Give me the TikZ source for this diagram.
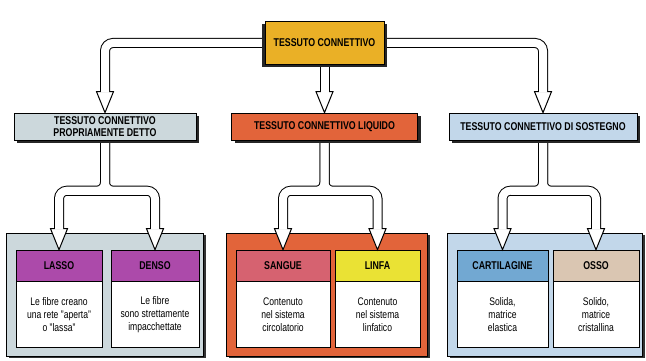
\documentclass[tikz,border=0pt]{standalone}
\usepackage{fontspec}
\setmainfont{Liberation Sans}[FakeStretch=0.78]
\usepackage{xcolor}
\usetikzlibrary{calc,positioning,shadows}

\definecolor{giallo}{RGB}{234,176,38}
\definecolor{grigio}{RGB}{204,216,220}
\definecolor{arancio}{RGB}{226,100,58}
\definecolor{celeste}{RGB}{194,215,234}
\definecolor{viola}{RGB}{172,74,170}
\definecolor{rosa}{RGB}{214,98,112}
\definecolor{limone}{RGB}{234,226,52}
\definecolor{azzurro}{RGB}{114,168,210}
\definecolor{sabbia}{RGB}{218,198,178}

\pgfdeclarelayer{fondo}
\pgfdeclarelayer{frecce}
\pgfsetlayers{fondo,frecce,main}

\tikzset{
  titolo/.style={draw, line width=0.7pt, align=center, inner sep=0pt,
    font=\fontsize{11.3}{12.5}\selectfont\bfseries,
    general shadow={fill=black!85, shadow xshift=3pt, shadow yshift=-3pt}},
  contenitore/.style={draw, line width=0.7pt, inner sep=0pt,
    general shadow={fill=black!80, shadow xshift=3pt, shadow yshift=-2pt}},
  testa/.style={draw, line width=0.6pt, inner sep=0pt, minimum height=31pt,
    font=\fontsize{11.3}{12.5}\selectfont\bfseries},
  corpo/.style={draw, fill=white, line width=0.6pt, inner sep=0pt,
    minimum height=66pt, align=center, font=\fontsize{11}{13}\selectfont},
  nero/.style={line width=10pt, rounded corners=8pt, black},
  bianco/.style={line width=8pt, rounded corners=8pt, white}
}

% condotti a doppia linea
\newcommand{\condotti}[2]{%
  \draw[#1] (connettivo.west) -| ($(propriamente.north)+(0,#2)$);
  \draw[#1] (connettivo.south) -- ($(liquido.north)+(0,#2)$);
  \draw[#1] (connettivo.east) -| ($(sostegno.north)+(0,#2)$);
  \foreach \p/\a/\b in {propriamente/lasso/denso, liquido/sangue/linfa, sostegno/cartilagine/osso}{
    \draw[#1] (\p.south) |- ($(\a.north)+(0,-59)$) -- ($(\a.north)+(0,#2)$);
    \draw[#1] (\p.south) |- ($(\b.north)+(0,-59)$) -- ($(\b.north)+(0,#2)$);
    \draw[#1] ($(\a.north)+(8,-59)$) -- ($(\b.north)+(-8,-59)$);
  }
}
\newcommand{\punta}[1]{%
  \filldraw[fill=white, line width=1pt, line join=miter]
    ($(#1.north)+(-8.5,-21)$) -- (#1.north) -- ($(#1.north)+(8.5,-21)$) -- cycle;
}

\begin{document}
\begin{tikzpicture}[x=1pt, y=-1pt]
  \useasboundingbox (0,0) rectangle (646,361);

  % vertice
  \node[titolo, fill=giallo, minimum width=119pt, minimum height=43pt,
    general shadow={fill=black!85, shadow xshift=-3pt, shadow yshift=-3pt}]
    (connettivo) at (324.5,43) {TESSUTO CONNETTIVO};

  % secondo livello
  \node[titolo, fill=grigio, minimum width=182pt, minimum height=27pt]
    (propriamente) at (105,126.5) {TESSUTO CONNETTIVO\\PROPRIAMENTE DETTO};
  \node[titolo, fill=arancio, minimum width=186pt, minimum height=27pt]
    (liquido) at (324.5,126.5) {TESSUTO CONNETTIVO LIQUIDO};
  \node[titolo, fill=celeste, minimum width=188pt, minimum height=27pt]
    (sostegno) at (543,126.5) {TESSUTO CONNETTIVO DI SOSTEGNO};

  \begin{pgfonlayer}{fondo}
    % riquadri
    \node[contenitore, fill=grigio, minimum width=197pt, minimum height=123pt] (boxP) at (104.5,294.5) {};
    \node[contenitore, fill=arancio, minimum width=201pt, minimum height=123pt] (boxL) at (326.5,294.5) {};
    \node[contenitore, fill=celeste, minimum width=195pt, minimum height=123pt] (boxS) at (544.5,294.5) {};

    \node[testa, fill=viola, minimum width=86pt] (lasso) at (59,265.5) {LASSO};
    \node[corpo, minimum width=86pt, below=0pt of lasso] (lassoT) {Le fibre creano\\una rete "aperta"\\o "lassa"};
    \node[testa, fill=viola, minimum width=88pt] (denso) at (155,265.5) {DENSO};
    \node[corpo, minimum width=88pt, below=0pt of denso] (densoT) {Le fibre\\sono strettamente\\impacchettate};

    \node[testa, fill=rosa, minimum width=94pt] (sangue) at (283,265.5) {SANGUE};
    \node[corpo, minimum width=94pt, below=0pt of sangue] (sangueT) {Contenuto\\nel sistema\\circolatorio};
    \node[testa, fill=limone, minimum width=85pt] (linfa) at (377.5,265.5) {LINFA};
    \node[corpo, minimum width=85pt, below=0pt of linfa] (linfaT) {Contenuto\\nel sistema\\linfatico};

    \node[testa, fill=azzurro, minimum width=91pt] (cartilagine) at (502.5,265.5) {CARTILAGINE};
    \node[corpo, minimum width=91pt, below=0pt of cartilagine] (cartilagineT) {Solida,\\matrice\\elastica};
    \node[testa, fill=sabbia, minimum width=86pt] (osso) at (596,265.5) {OSSO};
    \node[corpo, minimum width=86pt, below=0pt of osso] (ossoT) {Solido,\\matrice\\cristallina};
  \end{pgfonlayer}

  \begin{pgfonlayer}{frecce}
    \condotti{nero}{-21}
    \foreach \n in {propriamente, liquido, sostegno, lasso, denso, sangue, linfa, cartilagine, osso}
      {\punta{\n}}
    \condotti{bianco}{-20}
  \end{pgfonlayer}
\end{tikzpicture}
\end{document}
